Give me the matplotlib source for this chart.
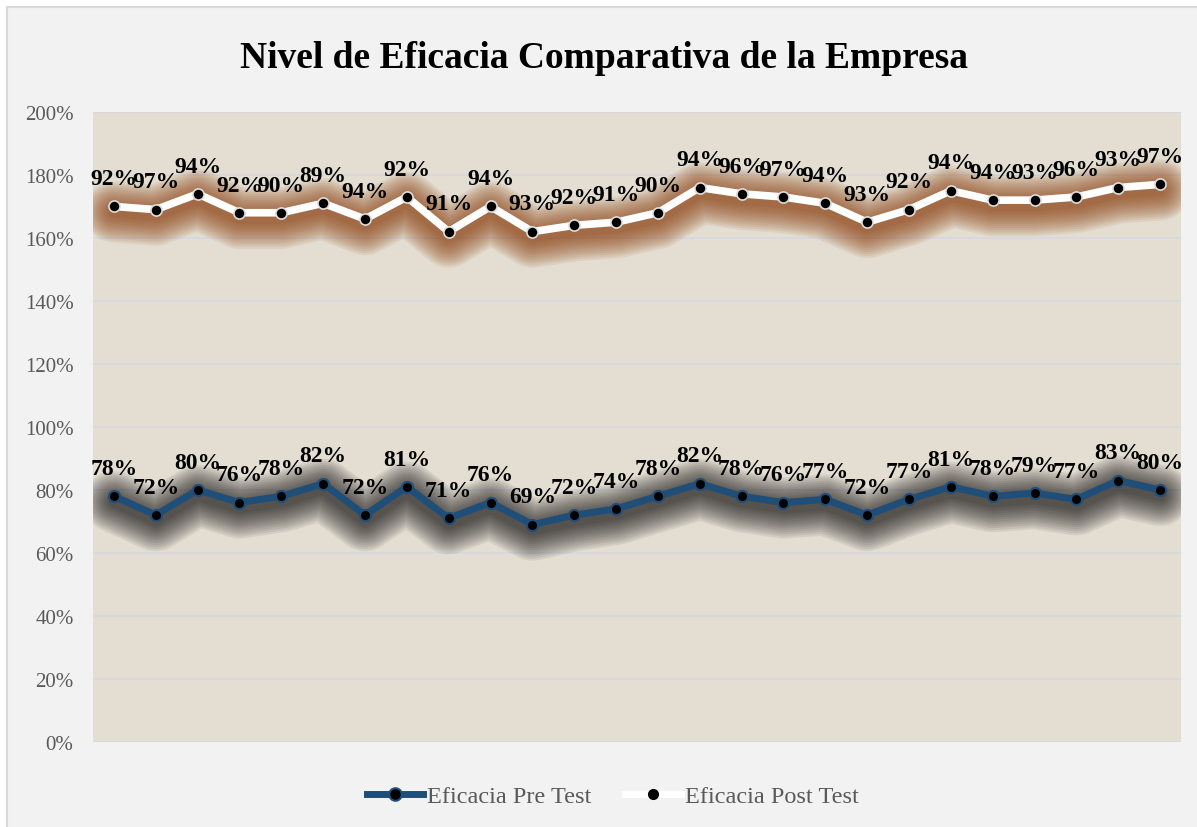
import numpy as np
import matplotlib
matplotlib.use('Agg')
import matplotlib.pyplot as plt
import matplotlib.patheffects as pe
from matplotlib.patches import Rectangle

# data (values in %)
pre_test = [78, 72, 80, 76, 78, 82, 72, 81, 71, 76, 69, 72, 74,
            78, 82, 78, 76, 77, 72, 77, 81, 78, 79, 77, 83, 80]
post_test = [92, 97, 94, 92, 90, 89, 94, 92, 91, 94, 93, 92, 91,
             90, 94, 96, 97, 94, 93, 92, 94, 94, 93, 96, 93, 97]
y_ticks = [0, 20, 40, 60, 80, 100, 120, 140, 160, 180, 200]
title = 'Nivel de Eficacia Comparativa de la Empresa'

plt.rcParams['font.family'] = ['Liberation Serif', 'DejaVu Serif']

pre = np.array(pre_test) / 100
post = np.array(post_test) / 100
stacked = pre + post          # excel stacked line
x = np.arange(len(pre))

fig = plt.figure(figsize=(11.97, 8.28), dpi=100)
fig.patch.set_facecolor('white')
# chart area with its thin border (top/left edges visible)
fig.patches.append(Rectangle((7 / 1197, -0.05), 1.1, 1.05 - 8 / 828, transform=fig.transFigure,
                             facecolor='#f2f2f2', edgecolor='#d9d9d9', linewidth=1.5, zorder=-1))

ax = fig.add_axes([0.0777, 0.1027, 0.9089, 0.7609])
ax.set_facecolor('#e4ded2')
for s in ax.spines.values():
    s.set_visible(False)

ax.set_xlim(-0.5, len(pre) - 0.5)
ax.set_ylim(0, 2.0)
ax.set_yticks(np.array(y_ticks) / 100)
ax.set_yticklabels([f'{t}%' for t in y_ticks], fontsize=15, color='#595959')
ax.tick_params(axis='y', length=0, pad=14)
ax.set_xticks([])
ax.grid(axis='y', color='#d6d9e0', linewidth=1.2)
ax.set_axisbelow(True)


def glow(color, strength):
    # soft excel-like glow, shifted a little downwards
    effects = []
    for w in range(44, 6, -3):
        effects.append(pe.Stroke(linewidth=w, foreground=color, alpha=strength,
                                 offset=(0, -4), capstyle='round', joinstyle='round'))
    effects.append(pe.Normal())
    return effects


pre_color = '#1f4e79'
ax.plot(x, pre, color=pre_color, linewidth=5, solid_joinstyle='round',
        path_effects=glow('#0a0a0a', 0.075), zorder=3)
ax.plot(x, pre, linestyle='none', marker='o', markersize=8,
        markerfacecolor='black', markeredgecolor=pre_color, markeredgewidth=1.5, zorder=4)

ax.plot(x, stacked, color='white', linewidth=5.5, solid_joinstyle='round',
        path_effects=glow('#8a3c0c', 0.085), zorder=3)
ax.plot(x, stacked, linestyle='none', marker='o', markersize=8,
        markerfacecolor='black', markeredgecolor='#dddddd', markeredgewidth=1.2, zorder=4)

for xi, yv, v in zip(x, pre, pre_test):
    ax.annotate(f'{v}%', (xi, yv), xytext=(0, 16), textcoords='offset points',
                ha='center', va='baseline', fontsize=17, fontweight='bold', zorder=5)
for xi, yv, v in zip(x, stacked, post_test):
    ax.annotate(f'{v}%', (xi, yv), xytext=(0, 16), textcoords='offset points',
                ha='center', va='baseline', fontsize=17, fontweight='bold', zorder=5)

fig.text(0.505, 0.929, title, ha='center', va='center', fontsize=27, fontweight='bold')

h1, = ax.plot([], [], color=pre_color, linewidth=5, marker='o', markersize=9,
              markerfacecolor='black', markeredgecolor=pre_color, markeredgewidth=1.5)
h2, = ax.plot([], [], color='white', linewidth=5, marker='o', markersize=7,
              markerfacecolor='black', markeredgecolor='black')
leg = fig.legend([h1, h2], ['Eficacia Pre Test', 'Eficacia Post Test'],
                 loc='center', bbox_to_anchor=(0.512, 0.037), ncol=2, frameon=False,
                 fontsize=17.5, handlelength=2.3, handletextpad=0.15, columnspacing=1.4)
for t in leg.get_texts():
    t.set_color('#595959')

fig.savefig('out.png', dpi=100, facecolor=fig.get_facecolor())
